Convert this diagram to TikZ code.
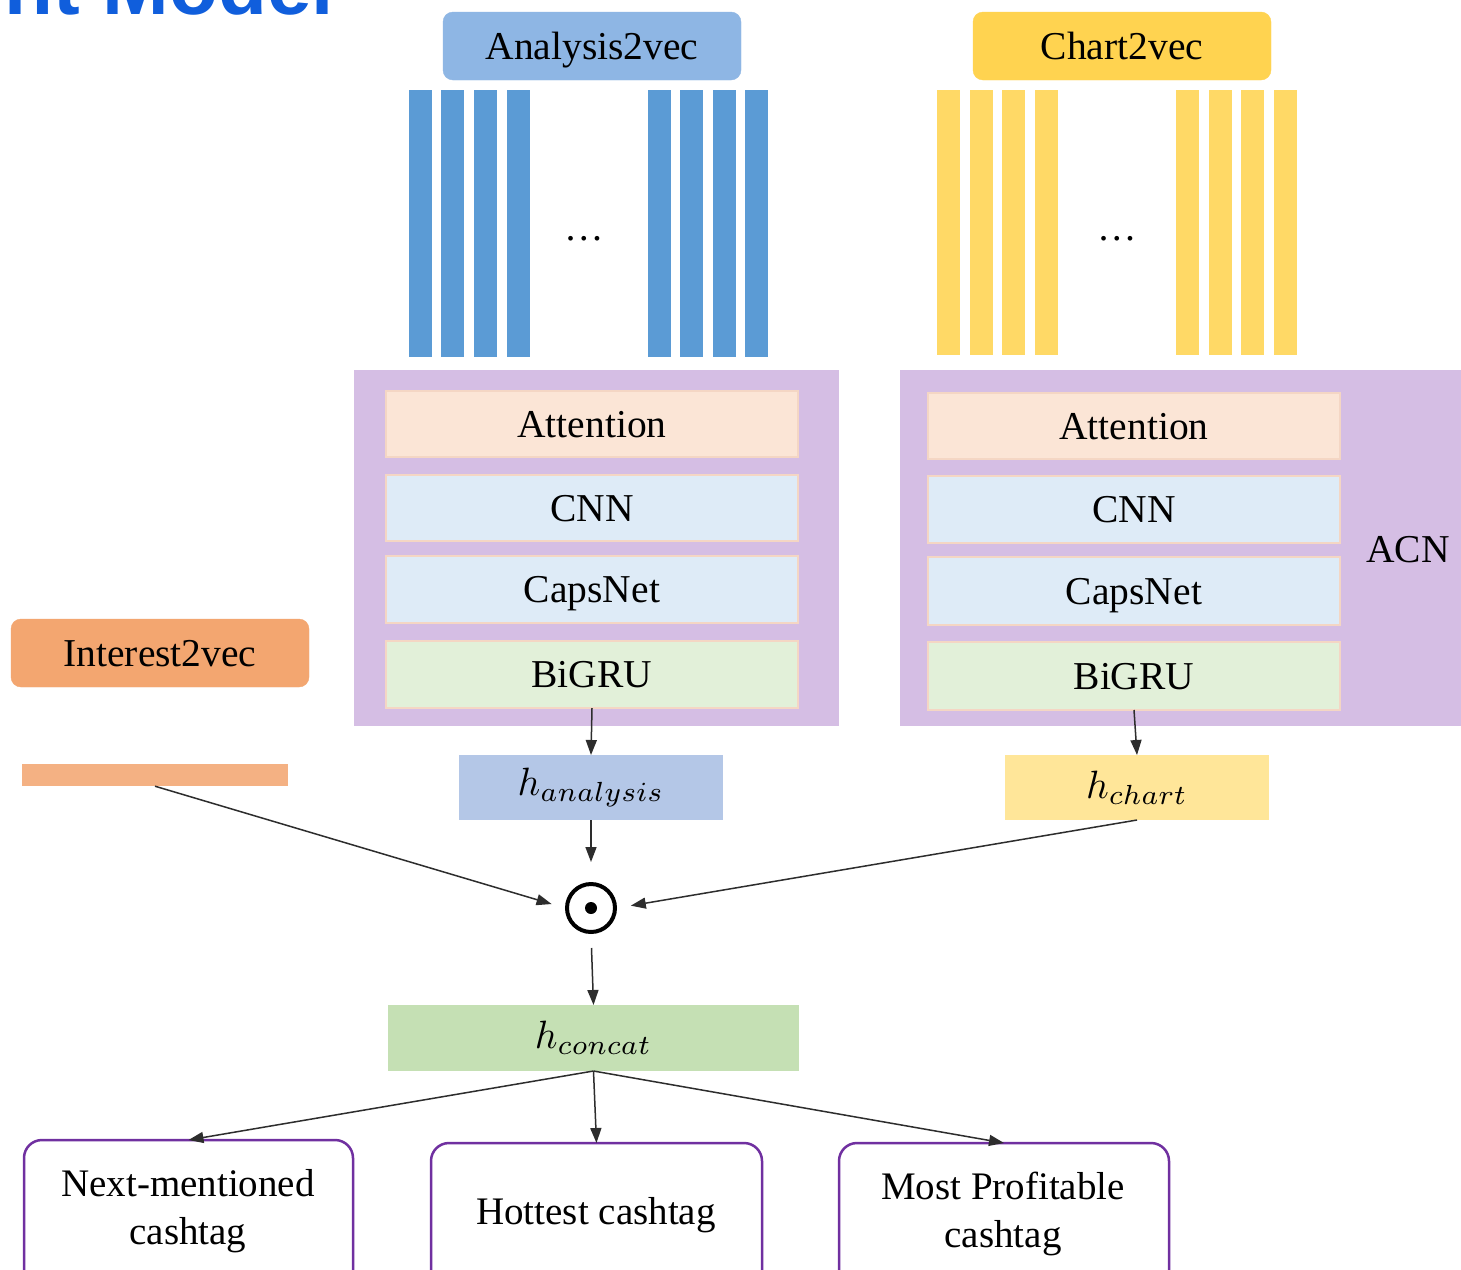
\documentclass[tikz,border=0pt]{standalone}
\usepackage{graphicx}
\usepackage{fontspec}
\setmainfont{Liberation Serif}
\newfontfamily\titlefont{Liberation Sans}
\usetikzlibrary{arrows.meta}
\definecolor{anaBlue}{RGB}{142,182,228}
\definecolor{barBlue}{RGB}{91,155,213}
\definecolor{chartYel}{RGB}{255,211,80}
\definecolor{barYel}{RGB}{255,217,102}
\definecolor{purp}{RGB}{213,190,228}
\definecolor{attnCol}{RGB}{251,229,214}
\definecolor{cnnCol}{RGB}{222,235,247}
\definecolor{gruCol}{RGB}{226,240,217}
\definecolor{innerBorder}{RGB}{244,214,196}
\definecolor{interestCol}{RGB}{243,166,112}
\definecolor{barOrange}{RGB}{244,177,131}
\definecolor{hanaCol}{RGB}{180,199,231}
\definecolor{hchartCol}{RGB}{255,230,153}
\definecolor{hconcatCol}{RGB}{197,224,180}
\definecolor{outBorder}{RGB}{112,48,160}
\definecolor{titleBlue}{RGB}{16,94,220}
\definecolor{arrowCol}{RGB}{45,45,45}
\newcommand{\bigmath}[1]{\scalebox{3.95}{$#1$}}
\tikzset{
  lbl/.style={font=\fontsize{39.5}{46}\selectfont, text height=26pt, text depth=0pt},
  vecbox/.style={lbl, rounded corners=10pt, draw=#1, fill=#1, inner sep=0pt, outer sep=0pt, minimum width=298pt, minimum height=68pt},
  layerbox/.style={lbl, draw=innerBorder, line width=1.2pt, fill=#1, inner sep=0pt, outer sep=0pt, minimum width=412pt, minimum height=66pt},
  hbox/.style={fill=#1, inner sep=0pt, outer sep=0pt, minimum width=264pt, minimum height=65pt},
  outbox/.style={draw=outBorder, line width=2.5pt, rounded corners=18pt, fill=white, inner sep=0pt, outer sep=0pt, minimum height=160pt},
  outtext/.style={font=\fontsize{39}{48}\selectfont, align=center, inner sep=0pt},
  conn/.style={draw=arrowCol, line width=1.5pt, -{Triangle[length=15pt,width=11pt]}},
}
\begin{document}
\begin{tikzpicture}[x=1pt,y=-1pt]
\useasboundingbox (0,0) rectangle (1461,1269);
\clip (0,0) rectangle (1461,1269);
\fill[white] (0,0) rectangle (1461,1269);

% cut-off title
\node[anchor=base east, text=titleBlue, font=\titlefont\bfseries\fontsize{80}{90}\selectfont, inner sep=0pt] (title) at (334,14) {nt Model};

% top boxes
\node[vecbox=anaBlue] (ana2vec) at (592,46) {Analysis2vec};
\node[vecbox=chartYel] (chart2vec) at (1122,46) {Chart2vec};

% bars
\foreach \x in {409,441,474,507,648,680,713,745}
  \fill[barBlue] (\x,90) rectangle ++(23,267);
\foreach \x in {937,970,1002,1035,1176,1209,1241,1274}
  \fill[barYel] (\x,90) rectangle ++(23,265);
\node[font=\fontsize{39.5}{46}\selectfont, anchor=base] (dotsL) at (584,240) {\dots};
\node[font=\fontsize{39.5}{46}\selectfont, anchor=base] (dotsR) at (1117,240) {\dots};

% ACN blocks
\node[fill=purp, inner sep=0pt, minimum width=485pt, minimum height=356pt] (acnL) at (596.5,548) {};
\node[fill=purp, inner sep=0pt, minimum width=570pt, minimum height=356pt] (acnR) at (1185,548) {};
\node[lbl] (acnlabel) at (1408,549) {ACN};

\node[layerbox=attnCol] (attL) at (592,424) {Attention};
\node[layerbox=cnnCol]  (cnnL) at (592,508) {CNN};
\node[layerbox=cnnCol, minimum height=67pt]  (capsL) at (592,589.5) {CapsNet};
\node[layerbox=gruCol, minimum height=67pt]  (gruL) at (592,674.5) {BiGRU};

\node[layerbox=attnCol] (attR) at (1134,426) {Attention};
\node[layerbox=cnnCol, minimum height=67pt]  (cnnR) at (1134,509.5) {CNN};
\node[layerbox=cnnCol, minimum height=68pt]  (capsR) at (1134,591) {CapsNet};
\node[layerbox=gruCol, minimum height=68pt]  (gruR) at (1134,676) {BiGRU};

% interest
\node[vecbox=interestCol] (int2vec) at (160,653) {Interest2vec};
\node[fill=barOrange, inner sep=0pt, minimum width=266pt, minimum height=22pt] (intbar) at (155,775) {};

% hidden vectors
\node[hbox=hanaCol] (hana) at (591,787.5) {\bigmath{h_{analysis}}};
\node[hbox=hchartCol] (hchart) at (1137,787.5) {\bigmath{h_{chart}}};
\node[circle, draw=black, line width=4pt, minimum size=48pt, inner sep=0pt] (odot) at (591,908) {};
\fill[black] (odot.center) circle (6pt);
\node[hbox=hconcatCol, minimum width=411pt, minimum height=66pt] (hconcat) at (593.5,1038) {\bigmath{h_{concat}}};

% outputs
\node[outbox, minimum width=329pt] (out1) at (188.5,1220) {};
\node[outbox, minimum width=331pt] (out2) at (596.5,1223) {};
\node[outbox, minimum width=330pt] (out3) at (1004,1223) {};
\node[outtext] (out1t) at (188,1211) {Next-mentioned\\cashtag};
\node[outtext] (out2t) at (596,1215) {Hottest cashtag};
\node[outtext] (out3t) at (1003,1214) {Most Profitable\\cashtag};

% connectors
\draw[conn] (gruL.south) -- (hana.north);
\draw[conn] (gruR.south) -- (hchart.north);
\draw[conn, shorten >=20pt] (hana.south) -- (odot.north);
\draw[conn, shorten >=14pt] (intbar.south) -- (odot.west);
\draw[conn, shorten >=14pt] (hchart.south) -- (odot.east);
\draw[conn, shorten <=14pt] (odot.south) -- (hconcat.north);
\draw[conn] (hconcat.south) -- (out1.north);
\draw[conn] (hconcat.south) -- (out2.north);
\draw[conn] (hconcat.south) -- (out3.north);
\end{tikzpicture}
\end{document}
